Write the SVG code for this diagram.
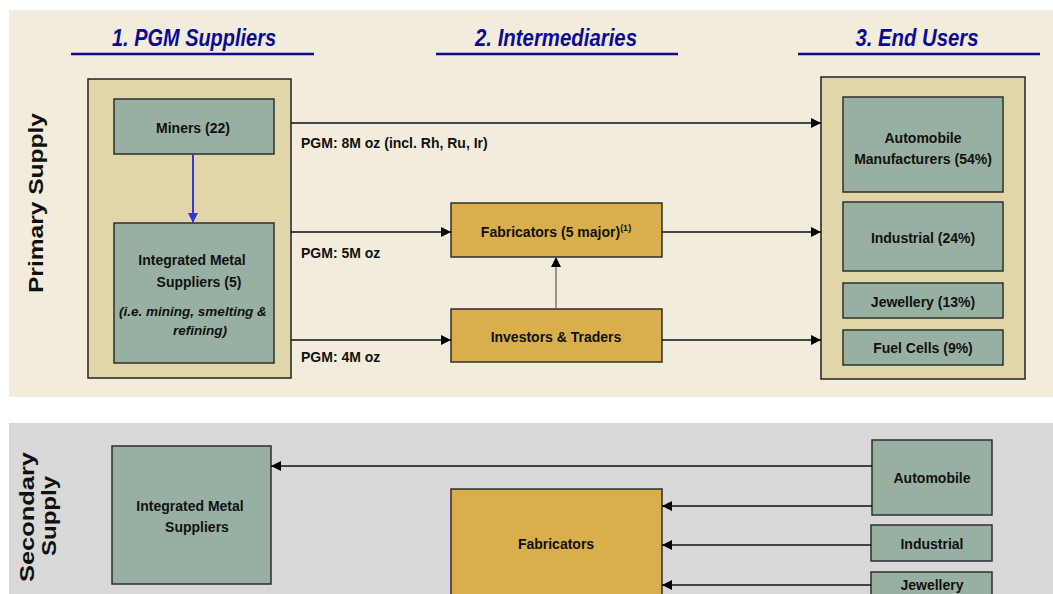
<svg xmlns="http://www.w3.org/2000/svg" width="1053" height="594" viewBox="0 0 1053 594">
  <style>
    .lbl { font-family: "Liberation Sans", Arial, sans-serif; font-weight: bold; font-size: 14px; fill: #111; }
    .mid { text-anchor: middle; }
    .ital { font-style: italic; font-size: 13.5px; }
    .title { font-family: "Liberation Sans", Arial, sans-serif; font-weight: bold; font-style: italic; font-size: 23px; fill: #0b0b96; text-anchor: middle; }
    .side { font-family: "Liberation Sans", Arial, sans-serif; font-weight: bold; font-size: 20px; fill: #111; text-anchor: middle; }
    .uline { stroke: #0b0b96; stroke-width: 2.5; }
    .box { stroke: #2e2e2e; stroke-width: 1.5; }
    .green { fill: #98b0a2; }
    .gold { fill: #d9ae4b; }
    .frame { fill: #e1d6aa; stroke: #222; stroke-width: 1.5; }
    .conn { stroke: #111; stroke-width: 1.3; fill: none; marker-end: url(#arrow); }
  </style>
  <defs>
    <marker id="arrow" markerUnits="userSpaceOnUse" markerWidth="10" markerHeight="10" viewBox="0 0 10 10" refX="10" refY="5" orient="auto">
      <path d="M0,0 L10,5 L0,10 z" fill="#000"/>
    </marker>
    <marker id="arrowBlue" markerUnits="userSpaceOnUse" markerWidth="10" markerHeight="10" viewBox="0 0 10 10" refX="10" refY="5" orient="auto">
      <path d="M0,0 L10,5 L0,10 z" fill="#3535dc"/>
    </marker>
  </defs>

  <!-- background bands -->
  <rect x="0" y="0" width="1053" height="594" fill="#ffffff"/>
  <rect x="9" y="10" width="1044" height="387" fill="#f2ecdc"/>
  <rect x="9" y="423" width="1044" height="171" fill="#d9d9d9"/>

  <!-- column headings -->
  <g id="headings">
    <text class="title" x="194" y="46" textLength="164" lengthAdjust="spacingAndGlyphs">1. PGM Suppliers</text>
    <line class="uline" x1="71" y1="54" x2="314" y2="54"/>
    <text class="title" x="556" y="46" textLength="162" lengthAdjust="spacingAndGlyphs">2. Intermediaries</text>
    <line class="uline" x1="436" y1="54" x2="678" y2="54"/>
    <text class="title" x="917" y="46" textLength="123" lengthAdjust="spacingAndGlyphs">3. End Users</text>
    <line class="uline" x1="798" y1="54" x2="1040" y2="54"/>
  </g>

  <!-- row labels -->
  <g id="row-labels">
    <text class="side" transform="translate(43,203) rotate(-90)" textLength="180" lengthAdjust="spacingAndGlyphs">Primary Supply</text>
    <text class="side" transform="translate(34,517) rotate(-90)" textLength="130" lengthAdjust="spacingAndGlyphs">Secondary</text>
    <text class="side" transform="translate(56,516) rotate(-90)" textLength="80" lengthAdjust="spacingAndGlyphs">Supply</text>
  </g>

  <!-- primary supply: suppliers -->
  <g id="suppliers-frame">
    <rect class="frame" x="88" y="79" width="203" height="299"/>
  </g>
  <g id="miners">
    <rect class="box green" x="114" y="99" width="160" height="55"/>
    <text class="lbl mid" x="193" y="133">Miners (22)</text>
  </g>
  <g id="integrated-metal-suppliers">
    <rect class="box green" x="114" y="223" width="160" height="140"/>
    <text class="lbl mid" x="192" y="265">Integrated Metal</text>
    <text class="lbl mid" x="199" y="287">Suppliers (5)</text>
    <text class="lbl mid ital" x="193" y="316">(i.e. mining, smelting &amp;</text>
    <text class="lbl mid ital" x="200" y="335">refining)</text>
  </g>

  <!-- primary supply: intermediaries -->
  <g id="fabricators">
    <rect class="box gold" x="451" y="203" width="211" height="54"/>
    <text class="lbl mid" x="556" y="237">Fabricators (5 major)<tspan font-size="9" dy="-6">(1)</tspan></text>
  </g>
  <g id="investors-traders">
    <rect class="box gold" x="451" y="309" width="211" height="53"/>
    <text class="lbl mid" x="556" y="342">Investors &amp; Traders</text>
  </g>

  <!-- primary supply: end users -->
  <g id="end-users-frame">
    <rect class="frame" x="821" y="77" width="204" height="302"/>
  </g>
  <g id="automobile-manufacturers">
    <rect class="box green" x="843" y="97" width="160" height="95"/>
    <text class="lbl mid" x="923" y="143">Automobile</text>
    <text class="lbl mid" x="923" y="164">Manufacturers (54%)</text>
  </g>
  <g id="industrial">
    <rect class="box green" x="843" y="202" width="160" height="69"/>
    <text class="lbl mid" x="923" y="243">Industrial (24%)</text>
  </g>
  <g id="jewellery">
    <rect class="box green" x="843" y="283" width="160" height="35"/>
    <text class="lbl mid" x="923" y="307">Jewellery (13%)</text>
  </g>
  <g id="fuel-cells">
    <rect class="box green" x="843" y="330" width="160" height="35"/>
    <text class="lbl mid" x="923" y="353">Fuel Cells (9%)</text>
  </g>

  <!-- secondary supply -->
  <g id="sec-integrated-metal-suppliers">
    <rect class="box green" x="112" y="446" width="159" height="138"/>
    <text class="lbl mid" x="190" y="511">Integrated Metal</text>
    <text class="lbl mid" x="197" y="532">Suppliers</text>
  </g>
  <g id="sec-fabricators">
    <rect class="box gold" x="451" y="489" width="211" height="110"/>
    <text class="lbl mid" x="556" y="549">Fabricators</text>
  </g>
  <g id="sec-automobile">
    <rect class="box green" x="872" y="440" width="120" height="75"/>
    <text class="lbl mid" x="932" y="483">Automobile</text>
  </g>
  <g id="sec-industrial">
    <rect class="box green" x="871" y="525" width="121" height="36"/>
    <text class="lbl mid" x="932" y="549">Industrial</text>
  </g>
  <g id="sec-jewellery">
    <rect class="box green" x="871" y="572" width="121" height="30"/>
    <text class="lbl mid" x="932" y="590">Jewellery</text>
  </g>

  <!-- connectors -->
  <g id="connectors">
    <line class="conn" x1="291" y1="123" x2="821" y2="123"/>
    <line x1="193" y1="154" x2="193" y2="223" stroke="#3535dc" stroke-width="2" marker-end="url(#arrowBlue)"/>
    <line class="conn" x1="291" y1="232" x2="451" y2="232"/>
    <line class="conn" x1="291" y1="340" x2="451" y2="340"/>
    <line class="conn" x1="662" y1="232" x2="821" y2="232"/>
    <line class="conn" x1="662" y1="340" x2="821" y2="340"/>
    <line class="conn" x1="556" y1="309" x2="556" y2="257" style="stroke:#666"/>
    <line class="conn" x1="872" y1="466" x2="271" y2="466"/>
    <line class="conn" x1="872" y1="506" x2="662" y2="506"/>
    <line class="conn" x1="871" y1="545" x2="662" y2="545"/>
    <line class="conn" x1="871" y1="585" x2="662" y2="585"/>
  </g>

  <!-- flow volume labels -->
  <g id="flow-labels">
    <text class="lbl" x="301" y="148">PGM: 8M oz (incl. Rh, Ru, Ir)</text>
    <text class="lbl" x="301" y="258">PGM: 5M oz</text>
    <text class="lbl" x="301" y="362">PGM: 4M oz</text>
  </g>
</svg>
